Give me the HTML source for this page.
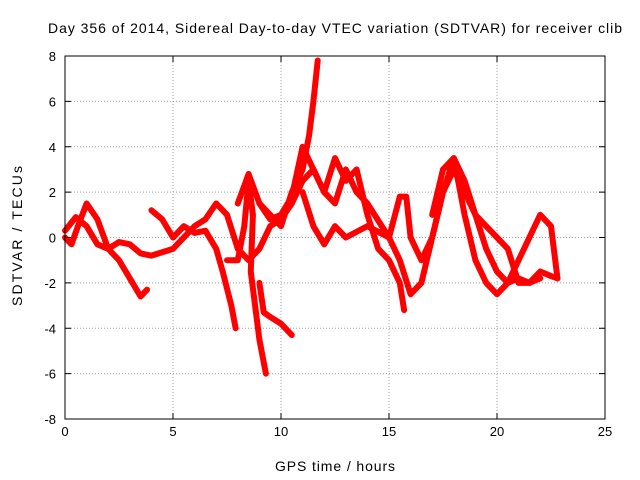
<!DOCTYPE html>
<html><head><meta charset="utf-8"><style>
body{margin:0;background:#fff}
svg{display:block;font-family:"Liberation Sans",sans-serif}
</style></head><body>
<svg id="chart" width="640" height="480">
<text x="335" y="33" text-anchor="middle" font-size="14" textLength="574" lengthAdjust="spacing">Day 356 of 2014, Sidereal Day-to-day VTEC variation (SDTVAR) for receiver clib</text>
<text x="335" y="471" text-anchor="middle" font-size="14" textLength="120" lengthAdjust="spacing">GPS time / hours</text>
<text transform="translate(22,236) rotate(-90)" text-anchor="middle" font-size="14" textLength="140" lengthAdjust="spacing">SDTVAR / TECUs</text>
<g id="grid"></g><g id="series"></g><g id="axes"></g>
</svg>
<script>
const xTicks=[0,5,10,15,20,25];
const yTicks=[-8,-6,-4,-2,0,2,4,6,8];
const trackT1=[[0,0.3],[0.5,0.9],[1,0.5],[1.5,-0.3],[2,-0.5],[2.5,-0.2],[3,-0.3],[3.5,-0.7],[4,-0.8],[5,-0.5],[6,0.5],[6.5,0.8],[7,1.5],[7.5,1.0],[8,-0.5],[8.5,-1],[9,-0.5],[9.5,0.5],[10,0.8],[10.5,1.5],[11,2.5],[11.5,3],[12,2],[12.5,1.5],[13,3],[13.5,2],[14,1.5],[15,0],[15.5,-1],[16,-2.5],[16.5,-2],[17,0],[17.5,2],[18,3.5],[18.5,2.5],[19,1],[19.5,0.5],[20,0],[20.5,-0.5],[21,-2],[21.5,-2],[22,-1.5],[22.5,-1.7],[22.8,-1.8]];
const trackT2=[[0,0],[0.3,-0.3],[0.6,0.5],[1,1.5],[1.5,0.8],[2,-0.5],[2.5,-1],[3,-1.8],[3.5,-2.6],[3.8,-2.3]];
const trackT3=[[4,1.2],[4.5,0.8],[5,0],[5.5,0.5],[6,0.2],[6.5,0.3],[7,-0.5],[7.3,-1.5],[7.7,-3],[7.9,-4]];
const trackT4=[[7.5,-1],[8,-1],[8.3,0.5],[8.5,2.5],[8.7,1],[8.6,-1.5],[8.8,-3],[9,-4.5],[9.3,-6]];
const trackT5=[[9,-2],[9.2,-3.3],[9.5,-3.5],[10,-3.8],[10.5,-4.3]];
const trackT6=[[8,1.5],[8.5,2.8],[9,1.5],[9.5,1],[10,0.5],[10.5,2],[11,3],[11.3,4.5],[11.5,6],[11.7,7.8]];
const trackT7=[[9,1.5],[9.5,0.8],[10,1],[10.5,1.8],[11,4],[11.5,3],[12,2],[12.5,3.5],[13,2.5],[13.5,3],[14,1],[14.5,-0.5],[15,-1],[15.5,-2],[15.7,-3.2]];
const trackT8=[[11,2],[11.5,0.5],[12,-0.3],[12.5,0.5],[13,0],[14,0.5],[15,0],[15.5,1.8],[15.8,1.8],[16,0],[16.5,-1],[17,0],[17.5,2],[18,3],[18.5,2],[19,1],[19.5,-0.5],[20,-1.5],[20.5,-2],[21,-1],[21.5,0],[22,1],[22.5,0.5],[22.8,-1.8]];
const trackT9=[[17,1],[17.5,3],[18,3.5],[18.5,1],[19,-1],[19.5,-2],[20,-2.5],[20.5,-2],[21,-1.8],[21.5,-2],[22,-1.8]];
const tracks=[trackT1,trackT2,trackT3,trackT4,trackT5,trackT6,trackT7,trackT8,trackT9];

const L=65,R=605,T=56,B=419;
const xs=v=>L+(v-0)/25*(R-L);
const ys=v=>B-(v+8)/16*(B-T);
const NS="http://www.w3.org/2000/svg";
function mk(tag,attrs,parent){const e=document.createElementNS(NS,tag);for(const k in attrs)e.setAttribute(k,attrs[k]);parent.appendChild(e);return e;}
const grid=document.getElementById('grid'),axes=document.getElementById('axes'),ser=document.getElementById('series');
xTicks.forEach(t=>{
  const x=xs(t);
  if(t>0&&t<25){const g=mk('line',{x1:x,x2:x,y1:T,y2:B,stroke:'#a0a0a0','stroke-dasharray':'1,2'},grid);
  
  }
  mk('line',{x1:x,x2:x,y1:B,y2:B-6,stroke:'#000'},axes);
  mk('line',{x1:x,x2:x,y1:T,y2:T+6,stroke:'#000'},axes);
  const tx=mk('text',{x:x,y:B+17,'text-anchor':'middle','font-size':13},axes);
  tx.textContent=t;
  
  
});
yTicks.forEach(t=>{
  const y=ys(t);
  if(t>-8&&t<8){const g=mk('line',{x1:L,x2:R,y1:y,y2:y,stroke:'#a0a0a0','stroke-dasharray':'1,2'},grid);
  
  }
  mk('line',{x1:L,x2:L+6,y1:y,y2:y,stroke:'#000'},axes);
  mk('line',{x1:R,x2:R-6,y1:y,y2:y,stroke:'#000'},axes);
  const tx=mk('text',{x:L-9,y:y+5,'text-anchor':'end','font-size':13},axes);
  tx.textContent=t;
  
  
});
const fr=mk('rect',{x:L,y:T,width:R-L,height:B-T,fill:'none',stroke:'#000'},axes);


tracks.forEach(tr=>{
  const p=mk('polyline',{points:tr.map(d=>xs(d[0])+','+ys(d[1])).join(' '),fill:'none',stroke:'#f00','stroke-width':6,'stroke-linejoin':'round','stroke-linecap':'round'},ser);
  
  
});
</script>
</body></html>
